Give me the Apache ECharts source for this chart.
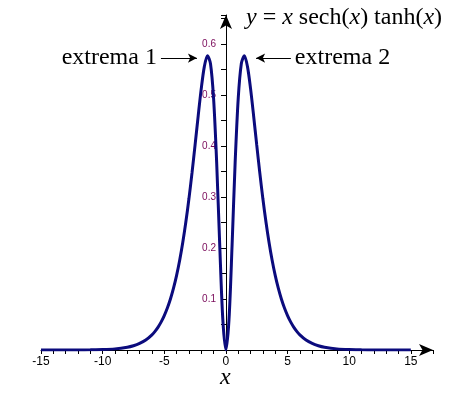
<!DOCTYPE html>
<html><head><meta charset="utf-8">
<script src="https://cdn.jsdelivr.net/npm/echarts@6/dist/echarts.min.js"></script>
<style>html,body{margin:0;padding:0;background:#fff}#c{width:464px;height:400px}</style>
</head><body><div id="c"></div>
<script>
const xValues = [-15,-14,-13,-12,-11,-10,-9,-8,-7.5,-7,-6.5,-6,-5.75,-5.5,-5.25,-5,-4.75,-4.5,-4.25,-4,-3.75,-3.5,-3.25,-3,-2.75,-2.5,-2.25,-2,-1.75,-1.5,-1.25,-1,-0.75,-0.5,-0.25,0,
  0.25,0.5,0.75,1,1.25,1.5,1.75,2,2.25,2.5,2.75,3,3.25,3.5,3.75,4,4.25,4.5,4.75,5,5.25,5.5,5.75,6,6.5,7,7.5,8,9,10,11,12,13,14,15];
const yValues = [0,0,0,0.0001,0.0004,0.0009,0.0022,0.0054,0.0083,0.0128,0.0195,0.0297,0.0366,0.0450,0.0551,0.0674,0.0822,0.0999,0.1212,0.1464,0.1761,0.2108,0.2509,0.2965,0.3473,0.4022,0.4588,0.5125,0.5558,0.5772,0.5615,0.4936,0.3679,0.2049,0.0594,0,
  0.0594,0.2049,0.3679,0.4936,0.5615,0.5772,0.5558,0.5125,0.4588,0.4022,0.3473,0.2965,0.2509,0.2108,0.1761,0.1464,0.1212,0.0999,0.0822,0.0674,0.0551,0.0450,0.0366,0.0297,0.0195,0.0128,0.0083,0.0054,0.0022,0.0009,0.0004,0.0001,0,0,0];
const xTickLabels = [-15,-10,-5,0,5,10,15];
const yTickLabels = [0.1,0.2,0.3,0.4,0.5,0.6];
const annotations = [
  {text:'extrema 1', from:[-5.27,0.5725], to:[-2.35,0.5725]},
  {text:'extrema 2', from:[5.27,0.5725], to:[2.45,0.5725]}
];

const chart = echarts.init(document.getElementById('c'), null, {renderer:'canvas'});
const serif = '"Liberation Serif","Times New Roman",serif';
const sans = '"Liberation Sans",Arial,sans-serif';
chart.setOption({
  animation:false,
  grid:{left:41,right:31,top:15,bottom:50},
  title:{
    left:241, top:1,
    text:'{i|y} = {i|x} sech({i|x}) tanh({i|x})',
    textStyle:{fontFamily:serif,fontSize:24,fontWeight:'normal',color:'#000',
      rich:{i:{fontFamily:serif,fontSize:24,fontStyle:'italic',color:'#000'}}}
  },
  graphic:[{type:'text',left:220,top:366,style:{text:'x',font:'italic 24px '+serif,fill:'#000'}}],
  xAxis:{type:'value',min:-15,max:16.8,interval:5,
    axisLine:{onZero:true,symbol:['none','arrow'],symbolSize:[9,14],lineStyle:{color:'#000',width:1}},
    axisTick:{length:4,lineStyle:{color:'#000'}},
    minorTick:{show:true,splitNumber:5,length:4,lineStyle:{color:'#000'}},
    splitLine:{show:false},
    axisLabel:{margin:6,fontFamily:sans,fontSize:12,color:'#000',
      formatter:v=>xTickLabels.includes(v)?String(v):''}
  },
  yAxis:{type:'value',min:0,max:0.657,interval:0.1,offset:-185,
    axisLine:{onZero:false,symbol:['none','arrow'],symbolSize:[9,14],lineStyle:{color:'#000',width:1}},
    axisTick:{length:5,lineStyle:{color:'#000'}},
    minorTick:{show:true,splitNumber:2,length:5,lineStyle:{color:'#000'}},
    splitLine:{show:false},
    axisLabel:{margin:10,fontFamily:sans,fontSize:10,color:'#7a0a5a',
      formatter:v=>{const r=Math.round(v*10)/10;return yTickLabels.includes(r)&&Math.abs(v-r)<1e-6?String(r):'';}}
  },
  series:[{
    type:'line',
    data:xValues.map((x,i)=>[x,yValues[i]]),
    showSymbol:false,
    smooth:0.3,
    lineStyle:{color:'#0b0b7d',width:3},
    markLine:{
      silent:true,
      symbol:['none','arrow'],
      symbolSize:[7,9],
      lineStyle:{color:'#000',width:1,type:'solid'},
      label:{show:true,position:'start',distance:4,formatter:p=>p.data.name,
        fontFamily:serif,fontSize:24,color:'#000'},
      data:annotations.map(a=>[{coord:a.from,name:a.text},{coord:a.to}])
    }
  }]
});
</script></body></html>
